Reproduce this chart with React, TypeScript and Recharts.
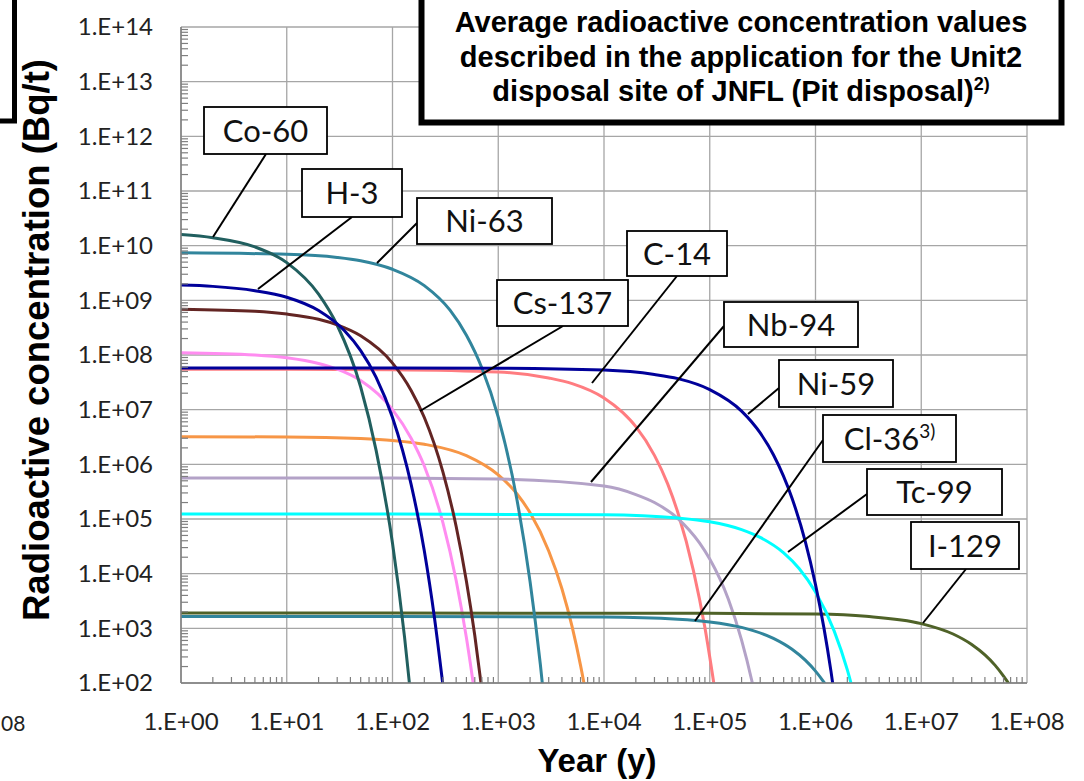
import React from "react";
import { LineChart, Line, XAxis, YAxis, CartesianGrid } from "recharts";

// [year, Bq/t] pairs
const co60 = [[1, 1.6e10], [2, 1.4e10], [5, 9.5e9], [10, 4.9e9], [20, 1.3e9], [30, 3.5e8], [50, 2.6e7], [70, 1.8e6], [100, 3.6e4], [130, 690], [150, 50]];
const h3 = [[1, 1.9e9], [2, 1.8e9], [5, 1.5e9], [10, 1.14e9], [20, 6.5e8], [35, 2.8e8], [50, 1.2e8], [70, 3.9e7], [100, 7.2e6], [150, 4.3e5], [200, 2.6e4], [250, 1.5e3], [300, 90]];
const ni63 = [[1, 7.4e9], [10, 6.95e9], [30, 6.1e9], [50, 5.3e9], [100, 3.7e9], [200, 1.86e9], [350, 6.6e8], [500, 2.3e8], [700, 5.8e7], [1000, 7.3e6], [1500, 2.3e5], [2000, 7.1e3], [2500, 220], [2800, 27]];
const cs137 = [[1, 6.9e8], [5, 6.3e8], [10, 5.6e8], [20, 4.5e8], [30, 3.55e8], [50, 2.24e8], [100, 7.1e7], [150, 2.25e7], [200, 7.2e6], [300, 7.2e5], [400, 7.3e4], [500, 7.3e3], [600, 740], [700, 75]];
const sr90 = [[1, 1.1e8], [5, 1.0e8], [10, 8.9e7], [20, 7.0e7], [30, 5.5e7], [50, 3.4e7], [100, 1.0e7], [150, 3.0e6], [200, 9.3e5], [300, 8.5e4], [400, 7.5e3], [500, 670], [600, 62]];
const am241 = [[1, 3.2e6], [10, 3.17e6], [50, 2.96e6], [100, 2.73e6], [200, 2.33e6], [500, 1.44e6], [1000, 6.4e5], [1500, 2.9e5], [2000, 1.3e5], [3000, 2.6e4], [4000, 5.3e3], [5000, 1.06e3], [6000, 210], [7000, 43]];
const ni59 = [[1, 5.8e7], [100, 5.8e7], [1000, 5.75e7], [1e4, 5.3e7], [3e4, 4.4e7], [5e4, 3.7e7], [1e5, 2.33e7], [2e5, 9.4e6], [3e5, 3.75e6], [4e5, 1.5e6], [6e5, 2.4e5], [8e5, 3.9e4], [1e6, 6.3e3], [1.2e6, 1.03e3], [1.4e6, 165], [1.6e6, 27]];
const c14 = [[1, 5.5e7], [10, 5.5e7], [100, 5.4e7], [1000, 4.9e7], [3000, 3.8e7], [5000, 3.0e7], [1e4, 1.64e7], [1.5e4, 8.9e6], [2e4, 4.9e6], [3e4, 1.46e6], [4e4, 4.4e5], [5e4, 1.3e5], [7e4, 1.15e4], [9e4, 1.03e3], [1.1e5, 91]];
const nb94 = [[1, 5.6e5], [100, 5.6e5], [1000, 5.4e5], [1e4, 4.0e5], [2e4, 2.8e5], [3e4, 2.0e5], [5e4, 1.02e5], [8e4, 3.65e4], [1e5, 1.85e4], [1.5e5, 3.4e3], [2e5, 610], [2.5e5, 110], [3e5, 20]];
const tc99 = [[1, 1.23e5], [100, 1.23e5], [1e4, 1.19e5], [5e4, 1.04e5], [1e5, 8.9e4], [2e5, 6.4e4], [3e5, 4.6e4], [5e5, 2.4e4], [7e5, 1.24e4], [1e6, 4.6e3], [1.5e6, 900], [2e6, 174], [2.5e6, 34]];
const cl36 = [[1, 1.65e3], [100, 1.65e3], [1e4, 1.61e3], [5e4, 1.47e3], [1e5, 1.31e3], [2e5, 1.04e3], [4e5, 657], [6e5, 415], [8e5, 262], [1e6, 165], [1.2e6, 104], [1.3e6, 83]];
const i129 = [[1, 1.9e3], [100, 1.9e3], [1e5, 1.89e3], [1e6, 1.82e3], [3e6, 1.66e3], [1e7, 1.22e3], [2e7, 787], [3e7, 506], [4e7, 326], [5e7, 210], [6e7, 134], [7e7, 87]];

const xMajor = [1, 1e1, 1e2, 1e3, 1e4, 1e5, 1e6, 1e7, 1e8];
const yMajor = [1e2, 1e3, 1e4, 1e5, 1e6, 1e7, 1e8, 1e9, 1e10, 1e11, 1e12, 1e13, 1e14];

const pts = (rows: number[][]) => rows.map(([t, v]) => ({ t, v }));

// drawing order: later ones on top
const series = [
  { name: "C-14", data: c14, color: "#ff7c80" },
  { name: "Am-241", data: am241, color: "#f79646" },
  { name: "Sr-90", data: sr90, color: "#ff8cf0" },
  { name: "Nb-94", data: nb94, color: "#b3a2c7" },
  { name: "Cl-36", data: cl36, color: "#31859c" },
  { name: "I-129", data: i129, color: "#4f6228" },
  { name: "Tc-99", data: tc99, color: "#00ffff" },
  { name: "Ni-63", data: ni63, color: "#31859c" },
  { name: "Co-60", data: co60, color: "#215f5f" },
  { name: "Cs-137", data: cs137, color: "#632523" },
  { name: "H-3", data: h3, color: "#00009a" },
  { name: "Ni-59", data: ni59, color: "#00009a" },
];

const labels = [
  { text: "Co-60", x: 204, y: 107, w: 123, h: 47, from: [266, 154], to: [213, 237] },
  { text: "H-3", x: 302, y: 169, w: 100, h: 48, from: [352, 217], to: [258, 289] },
  { text: "Ni-63", x: 417, y: 198, w: 135, h: 46, from: [417, 223], to: [377, 263] },
  { text: "Cs-137", x: 497, y: 280, w: 131, h: 46, from: [563, 326], to: [420, 411] },
  { text: "C-14", x: 627, y: 231, w: 100, h: 45, from: [677, 276], to: [592, 383] },
  { text: "Nb-94", x: 724, y: 302, w: 134, h: 45, from: [724, 326], to: [591, 482] },
  { text: "Ni-59", x: 779, y: 360, w: 114, h: 47, from: [779, 388], to: [748, 414] },
  { text: "Cl-36", sup: "3)", x: 823, y: 415, w: 133, h: 47, from: [823, 440], to: [695, 621] },
  { text: "Tc-99", x: 867, y: 469, w: 135, h: 46, from: [867, 494], to: [788, 552] },
  { text: "I-129", x: 911, y: 522, w: 108, h: 47, from: [966, 569], to: [923, 623] },
];

const minors = (majors: number[]) =>
  majors.slice(0, -1).flatMap((m) => [2, 3, 4, 5, 6, 7, 8, 9].map((k) => k * m));

const isMajor = (v: number) => {
  const e = Math.round(Math.log10(v));
  return Math.abs(v - Math.pow(10, e)) < v * 1e-6;
};
const fmt = (v: number) => `1.E+${String(Math.round(Math.log10(v))).padStart(2, "0")}`;

const tickFont = "Lato, 'Open Sans', sans-serif";
const boldFont = "'Liberation Sans', Arial, sans-serif";

const XTick = (props: any) => {
  const { x, y, payload } = props;
  const v = payload.value;
  if (!isMajor(v)) return <line x1={x} x2={x} y1={y} y2={y - 6} stroke="#7f7f7f" strokeWidth={1.2} />;
  return (
    <text x={x} y={y + 47} textAnchor="middle" fontFamily={tickFont} fontSize={24} fill="#222">
      {fmt(v)}
    </text>
  );
};

const YTick = (props: any) => {
  const { x, y, payload } = props;
  const v = payload.value;
  if (!isMajor(v)) return <line x1={x} x2={x + 7} y1={y} y2={y} stroke="#7f7f7f" strokeWidth={1.2} />;
  return (
    <text x={x - 28} y={y} dy="0.35em" textAnchor="end" fontFamily={tickFont} fontSize={24} fill="#222">
      {fmt(v)}
    </text>
  );
};

export default function App() {
  return (
    <div style={{ position: "absolute", left: 0, top: 0, width: 1084, height: 781, background: "#fff", overflow: "hidden" }}>
      <LineChart width={1084} height={781} margin={{ top: 27, right: 57, bottom: 38, left: 0 }}>
        <CartesianGrid stroke="#a6a6a6" strokeWidth={1.3} horizontalValues={yMajor} verticalValues={xMajor} />
        <XAxis
          type="number"
          dataKey="t"
          scale="log"
          domain={[1, 1e8]}
          allowDataOverflow
          ticks={[...xMajor, ...minors(xMajor)]}
          interval={0}
          tickLine={false}
          tickSize={0}
          tickMargin={0}
          height={60}
          axisLine={{ stroke: "#7f7f7f", strokeWidth: 1.5 }}
          tick={<XTick />}
        />
        <YAxis
          type="number"
          scale="log"
          domain={[1e2, 1e14]}
          allowDataOverflow
          ticks={[...yMajor, ...minors(yMajor)]}
          interval={0}
          tickLine={false}
          tickSize={0}
          tickMargin={0}
          width={181}
          axisLine={{ stroke: "#7f7f7f", strokeWidth: 1.5 }}
          tick={<YTick />}
        />
        {series.map((s) => (
          <Line
            key={s.name}
            name={s.name}
            data={pts(s.data)}
            dataKey="v"
            type="monotone"
            stroke={s.color}
            strokeWidth={3}
            dot={false}
            activeDot={false}
            isAnimationActive={false}
          />
        ))}
      </LineChart>

      <svg width={1084} height={781} style={{ position: "absolute", left: 0, top: 0, pointerEvents: "none" }}>
        {/* neighbouring panel remnants */}
        <rect x={-100} y={-100} width={114.5} height={221} fill="none" stroke="#000" strokeWidth={5} />
        <text x={1} y={731} textAnchor="start" fontFamily={tickFont} fontSize={21} fill="#222">08</text>

        {/* title box */}
        <rect x={421.5} y={-20} width={640} height={142.5} fill="#fff" stroke="#000" strokeWidth={6} />
        <g fontFamily={boldFont} fontWeight="bold" fontSize={29} fill="#000" textAnchor="middle">
          <text x={741} y={32}>Average radioactive concentration values</text>
          <text x={741} y={67}>described in the application for the Unit2</text>
          <text x={741} y={101}>
            disposal site of JNFL (Pit disposal)
            <tspan fontSize={18} dy={-11}>2)</tspan>
          </text>
        </g>

        {/* nuclide labels */}
        {labels.map((l) => (
          <line key={l.text + "-ln"} x1={l.from[0]} y1={l.from[1]} x2={l.to[0]} y2={l.to[1]} stroke="#000" strokeWidth={2} />
        ))}
        {labels.map((l) => (
          <g key={l.text}>
            <rect x={l.x} y={l.y} width={l.w} height={l.h} fill="#fff" stroke="#000" strokeWidth={1.8} />
            <text x={l.x + l.w / 2} y={l.y + l.h / 2 + 11} textAnchor="middle" fontFamily={tickFont} fontSize={31} fill="#111">
              {l.text}
              {l.sup && (
                <tspan fontSize={19} dy={-12}>
                  {l.sup}
                </tspan>
              )}
            </text>
          </g>
        ))}

        {/* axis titles */}
        <text
          x={0}
          y={0}
          transform="translate(49,340) rotate(-90)"
          textAnchor="middle"
          fontFamily={boldFont}
          fontWeight="bold"
          fontSize={36}
          textLength={562}
          lengthAdjust="spacingAndGlyphs"
        >
          Radioactive concentration (Bq/t)
        </text>
        <text x={597} y={772} textAnchor="middle" fontFamily={boldFont} fontWeight="bold" fontSize={33}>
          Year (y)
        </text>
      </svg>
    </div>
  );
}
